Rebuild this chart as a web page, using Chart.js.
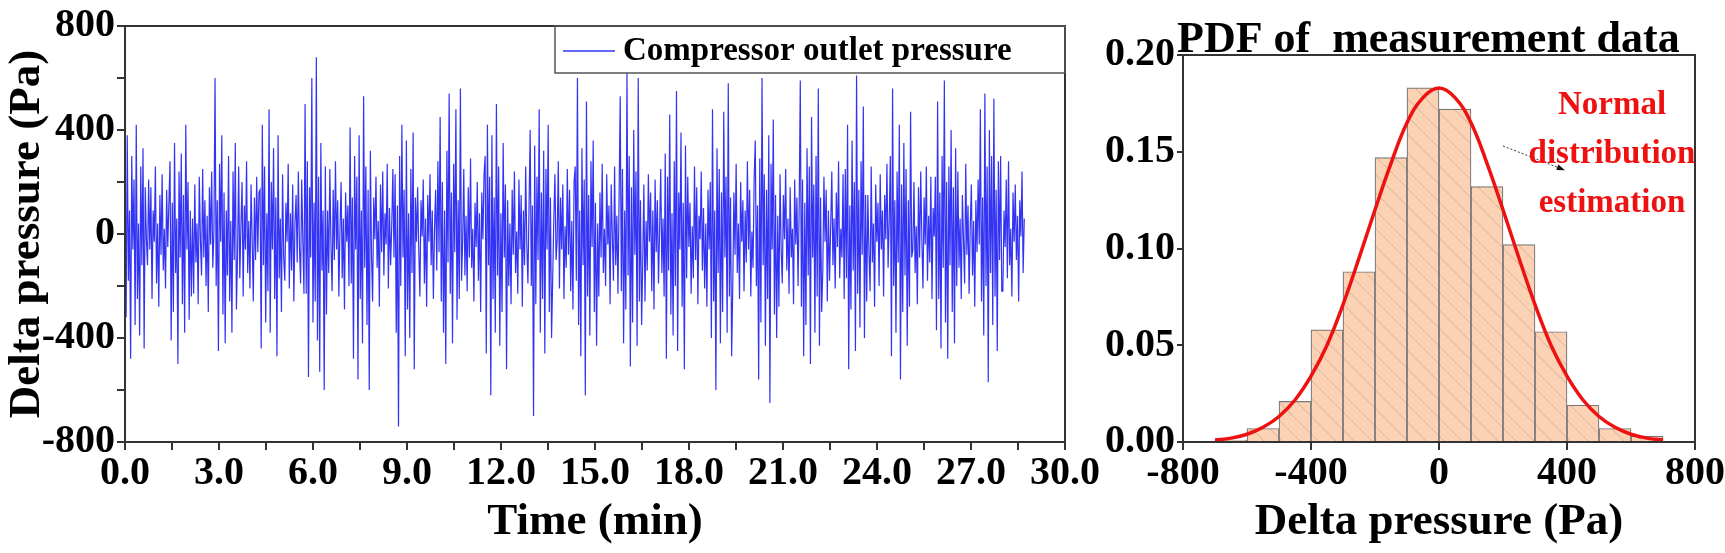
<!DOCTYPE html>
<html>
<head>
<meta charset="utf-8">
<script src="https://cdn.jsdelivr.net/npm/chart.js@4"></script>
<style>
  body { margin: 0; background: #fff; width: 1725px; height: 553px; position: relative; overflow: hidden; }
  #wrapLeft { position: absolute; left: 0; top: 0; width: 1100px; height: 553px; }
  #wrapRight { position: absolute; left: 1075px; top: 0; width: 650px; height: 553px; }
</style>
</head>
<body>
<div id="wrapLeft"><canvas id="timeChart"></canvas></div>
<div id="wrapRight"><canvas id="pdfChart"></canvas></div>
<script>
const FONT = '"Liberation Serif", "Times New Roman", serif';

// pressure signal (Pa), evenly spaced from 0 to END_TIME min
const END_TIME = 28.7;
const pressure = [
  150,-320,380,-180,90,-480,300,-60,210,-350,420,-250,40,-390,260,-120,330,-440,180,-20,
  -120,210,-60,180,-250,90,-30,260,-190,40,-280,150,-80,230,-140,20,-210,170,-50,120,
  280,-410,120,-300,350,-150,60,-500,240,-90,310,-270,150,-380,420,-60,200,-330,90,-240,
  60,-230,190,-110,40,-270,220,-20,-160,250,-90,130,-200,70,-300,180,-40,240,-130,10,
  600,-200,130,-450,270,-30,380,-310,160,-420,90,-160,300,-260,50,-380,240,-100,350,-290,
  -80,260,-170,30,200,-240,110,-60,280,-150,50,-210,190,-20,-260,140,-100,220,-70,160,
  170,-440,420,-120,260,-340,80,-220,480,-380,200,-60,330,-250,140,-470,380,-170,60,-300,
  230,-90,-180,120,-30,270,-210,80,-140,190,-260,40,150,-110,240,-50,-190,210,-20,-230,
  500,-230,280,-550,180,-90,600,-340,120,-260,680,-410,220,-530,350,-140,90,-600,260,-310,
  90,-150,250,-40,-220,170,-100,280,-60,130,-240,20,200,-170,60,-290,160,-30,110,-200,
  410,-190,140,-480,300,-60,220,-560,380,-250,90,-420,530,-130,260,-350,170,-600,320,-80,
  -260,140,-20,220,-130,50,-280,190,-70,240,-160,80,-40,270,-210,100,-120,30,250,-90,
  230,-380,110,-740,300,-200,420,-90,170,-470,360,-290,80,-400,250,-150,390,-520,140,-30,
  180,-60,-240,130,-10,210,-190,60,-280,150,-30,230,-120,90,-250,20,170,-140,280,-70,
  450,-260,200,-380,90,-500,320,-110,540,-230,160,-420,270,-70,480,-330,130,-250,560,-180,
  -30,250,-160,70,-220,180,-90,290,-130,20,-260,120,-50,200,-180,80,-300,160,-20,230,
  300,-460,420,-120,220,-620,380,-250,140,-380,500,-160,260,-430,80,-300,350,-90,190,-520,
  130,-200,40,-270,170,-80,240,-150,10,-230,210,-60,150,-280,90,-120,260,-40,-190,110,
  400,-200,110,-700,340,-270,220,-100,480,-380,160,-250,320,-460,250,-60,420,-300,140,-400,
  -170,60,230,-100,-20,280,-210,140,-60,190,-250,30,-130,250,-80,170,-220,50,-290,200,
  260,-180,600,-350,90,-470,330,-120,210,-620,510,-240,150,-390,280,-50,360,-300,120,-430,
  40,-240,160,-90,270,-150,20,-200,230,-40,110,-270,190,-10,-180,260,-120,70,-230,140,
  530,-220,250,-420,90,-290,620,-160,300,-510,180,-340,400,-80,240,-430,600,-260,130,-350,
  -110,190,-260,50,-140,230,-30,160,-220,90,-290,210,-70,130,-190,20,250,-150,60,-240,
  310,-480,220,-140,460,-310,80,-390,280,-200,550,-450,160,-60,390,-280,120,-520,340,-170,
  220,-50,120,-230,30,-170,260,-100,180,-270,70,-20,240,-140,100,-210,40,-280,170,-60,
  200,-400,480,-260,90,-600,330,-150,250,-420,160,-300,470,-90,220,-380,580,-240,140,-470,
  -200,160,-80,270,-150,40,-250,200,-30,130,-220,90,-110,280,-60,170,-240,10,-130,210,
  360,-200,110,-560,290,-340,600,-120,230,-430,170,-250,380,-650,270,-60,440,-310,150,-400,
  70,-280,230,-60,-190,150,-20,250,-140,60,-230,180,-90,20,-270,210,-40,140,-200,100,
  590,-280,210,-470,120,-350,330,-160,260,-500,450,-90,190,-380,300,-240,560,-430,140,-300,
  -140,220,-30,170,-260,90,-180,30,240,-120,60,-210,160,-50,280,-170,20,-90,230,-250,
  250,-170,420,-520,110,-290,360,-140,200,-450,610,-230,170,-360,280,-80,490,-400,150,-260,
  150,-70,-220,260,-110,40,-280,190,-30,120,-200,230,-60,90,-240,150,-20,270,-130,50,
  300,-470,560,-200,130,-380,240,-110,420,-560,190,-300,350,-160,250,-430,130,-280,470,-90,
  -60,200,-150,30,-270,180,-90,240,-20,-210,140,-40,260,-180,70,-110,220,-250,100,-10,
  220,-370,510,-250,160,-440,300,-130,590,-340,200,-480,260,-120,400,-300,180,-420,330,-200,
  240,-130,60,-250,150,-20,-190,270,-80,110,-230,30,190,-160,50,-280,130,-70,210,-40,
  480,-260,140,-390,540,-200,260,-570,400,-150,300,-350,520,-240,170,-450,280,-100,300,-220,
  -220,90,-50,210,-170,280,-120,20,-240,160,-30,190,-100,70,-260,130,-10,240,-150,60
];

// histogram (bin centres, probability per 100 Pa bin)
const binCenters = [-650,-550,-450,-350,-250,-150,-50,50,150,250,350,450,550,650];
const binProb    = [0.001,0.007,0.021,0.058,0.088,0.147,0.183,0.172,0.132,0.102,0.057,0.019,0.007,0.003];

// fitted normal curve
const fitX = [-700,-650,-600,-550,-500,-450,-400,-350,-300,-250,-200,-150,-100,-50,0,50,100,150,200,250,300,350,400,450,500,550,600,650,700];
const fitY = [0.001,0.002,0.004,0.0076,0.0132,0.0217,0.034,0.050,0.071,0.095,0.120,0.144,0.165,0.178,0.183,0.178,0.165,0.144,0.120,0.095,0.071,0.050,0.034,0.0217,0.0132,0.0076,0.004,0.002,0.001];

const arrowFrom = [200, 0.153];
const arrowTo = [385, 0.141];
const noteLines = ['Normal', 'distribution', 'estimation'];

const timeTicks = [0,3,6,9,12,15,18,21,24,27,30];

// frame around the plot area
const framePlugin = {
  id: 'frame',
  afterDraw(chart) {
    const { ctx, chartArea: a } = chart;
    ctx.save();
    ctx.strokeStyle = '#333';
    ctx.lineWidth = 2;
    ctx.strokeRect(a.left, a.top, a.right - a.left, a.bottom - a.top);
    ctx.restore();
  }
};

const axisFont = { family: FONT, size: 40, weight: 'bold' };
const titleFont = { family: FONT, size: 45, weight: 'bold' };

new Chart(document.getElementById('timeChart'), {
  type: 'line',
  data: {
    datasets: [{
      data: pressure.map((v, i) => ({ x: i * END_TIME / (pressure.length - 1), y: v })),
      borderColor: '#3333f5',
      borderWidth: 1.2,
      pointRadius: 0,
      tension: 0
    }]
  },
  options: {
    responsive: true,
    maintainAspectRatio: false,
    animation: false,
    layout: { padding: { top: 22, right: 14 } },
    plugins: { legend: { display: false }, tooltip: { enabled: false } },
    scales: {
      x: {
        type: 'linear', min: 0, max: 30,
        afterBuildTicks: s => { s.ticks = [];
          for (let t = 0; t <= 30; t += 1.5) s.ticks.push({ value: t }); },
        ticks: { color: '#000', font: axisFont, maxRotation: 0, autoSkip: false, padding: 0,
          callback: v => timeTicks.includes(v) ? v.toFixed(1) : '' },
        grid: { drawOnChartArea: false, color: '#333', tickLength: 8, lineWidth: 2 },
        border: { color: '#333', width: 2 },
        title: { display: true, text: 'Time (min)', color: '#000', font: titleFont, padding: { top: -4 } },
        afterFit: s => { s.height = 111; }
      },
      y: {
        min: -800, max: 800,
        ticks: { stepSize: 200, color: '#000', font: axisFont, padding: 2,
          callback: v => v % 400 === 0 ? v : '' },
        grid: { drawOnChartArea: false, color: '#333', tickLength: 8, lineWidth: 2 },
        border: { color: '#333', width: 2 },
        title: { display: true, text: 'Delta pressure (Pa)', color: '#000', font: titleFont, padding: 0 },
        afterFit: s => { s.width = 125; }
      }
    }
  },
  plugins: [framePlugin, {
    id: 'legendBox',
    afterDraw(chart) {
      const { ctx, chartArea: a } = chart;
      const bx = 555;
      ctx.save();
      ctx.fillStyle = '#fff';
      ctx.fillRect(bx, a.top + 1, a.right - bx - 1, 46);
      ctx.strokeStyle = '#555';
      ctx.lineWidth = 1.5;
      ctx.strokeRect(bx, a.top, a.right - bx, 47);
      ctx.strokeStyle = '#3333f5';
      ctx.lineWidth = 1.5;
      ctx.beginPath(); ctx.moveTo(bx + 8, a.top + 25); ctx.lineTo(bx + 60, a.top + 25); ctx.stroke();
      ctx.fillStyle = '#000';
      ctx.font = 'bold 33px ' + FONT;
      ctx.textBaseline = 'middle';
      ctx.fillText('Compressor outlet pressure', bx + 68, a.top + 25);
      ctx.restore();
    }
  }]
});

// diagonal hatch for the histogram bars
function hatch() {
  const c = document.createElement('canvas');
  c.width = 18; c.height = 18;
  const g = c.getContext('2d');
  g.fillStyle = '#fbd3b4';
  g.fillRect(0, 0, 18, 18);
  g.strokeStyle = 'rgba(120,110,100,0.3)';
  g.lineWidth = 1;
  g.beginPath();
  g.moveTo(0, 0); g.lineTo(18, 18);
  g.moveTo(-9, 9); g.lineTo(9, 27);
  g.moveTo(9, -9); g.lineTo(27, 9);
  g.stroke();
  return g.createPattern(c, 'repeat');
}

new Chart(document.getElementById('pdfChart'), {
  data: {
    datasets: [{
      type: 'line',
      data: fitX.map((x, i) => ({ x, y: fitY[i] })),
      borderColor: '#ee1111',
      borderWidth: 3.5,
      pointRadius: 0,
      tension: 0.4,
      order: 0
    }, {
      type: 'bar',
      data: binCenters.map((x, i) => ({ x, y: binProb[i] })),
      backgroundColor: hatch(),
      borderColor: '#777',
      borderWidth: 1.2,
      barPercentage: 1,
      categoryPercentage: 1,
      order: 1
    }]
  },
  options: {
    responsive: true,
    maintainAspectRatio: false,
    animation: false,
    layout: { padding: { top: 55, right: 22 } },
    plugins: { legend: { display: false }, tooltip: { enabled: false } },
    scales: {
      x: {
        type: 'linear', min: -800, max: 800, offset: false,
        ticks: { stepSize: 400, color: '#000', font: axisFont, maxRotation: 0, padding: 0 },
        grid: { drawOnChartArea: false, color: '#333', tickLength: 8, lineWidth: 2, offset: false },
        border: { color: '#333', width: 2 },
        title: { display: true, text: 'Delta pressure (Pa)', color: '#000', font: titleFont, padding: { top: -4 } },
        afterFit: s => { s.height = 111; }
      },
      y: {
        min: 0, max: 0.2,
        ticks: { stepSize: 0.05, color: '#000', font: axisFont, padding: 2, callback: v => v.toFixed(2) },
        grid: { drawOnChartArea: false, color: '#333', tickLength: 6, lineWidth: 2 },
        border: { color: '#333', width: 2 },
        afterFit: s => { s.width = 108; }
      }
    }
  },
  plugins: [framePlugin, {
    id: 'notes',
    afterDraw(chart) {
      const { ctx, chartArea: a, scales: { x, y } } = chart;
      ctx.save();
      ctx.fillStyle = '#000';
      ctx.font = 'bold 44px ' + FONT;
      ctx.textBaseline = 'alphabetic';
      ctx.textAlign = 'left';
      ctx.fillText('PDF of  measurement data', a.left - 6, a.top - 3);
      // dotted arrow
      const x0 = x.getPixelForValue(arrowFrom[0]), y0 = y.getPixelForValue(arrowFrom[1]);
      const x1 = x.getPixelForValue(arrowTo[0]), y1 = y.getPixelForValue(arrowTo[1]);
      ctx.strokeStyle = '#333';
      ctx.lineWidth = 1;
      ctx.setLineDash([2, 2]);
      ctx.beginPath(); ctx.moveTo(x0, y0); ctx.lineTo(x1, y1); ctx.stroke();
      ctx.setLineDash([]);
      const ang = Math.atan2(y1 - y0, x1 - x0);
      ctx.fillStyle = '#111';
      ctx.beginPath();
      ctx.moveTo(x1 + 3 * Math.cos(ang), y1 + 3 * Math.sin(ang));
      ctx.lineTo(x1 - 6 * Math.cos(ang - 0.5), y1 - 6 * Math.sin(ang - 0.5));
      ctx.lineTo(x1 - 6 * Math.cos(ang + 0.5), y1 - 6 * Math.sin(ang + 0.5));
      ctx.fill();
      // annotation text
      ctx.fillStyle = '#ee1111';
      ctx.font = 'bold 33px ' + FONT;
      ctx.textAlign = 'center';
      ctx.textBaseline = 'middle';
      noteLines.forEach((t, i) => ctx.fillText(t, 1612 - 1075, 105 + i * 49));
      ctx.restore();
    }
  }]
});
</script>
</body>
</html>
